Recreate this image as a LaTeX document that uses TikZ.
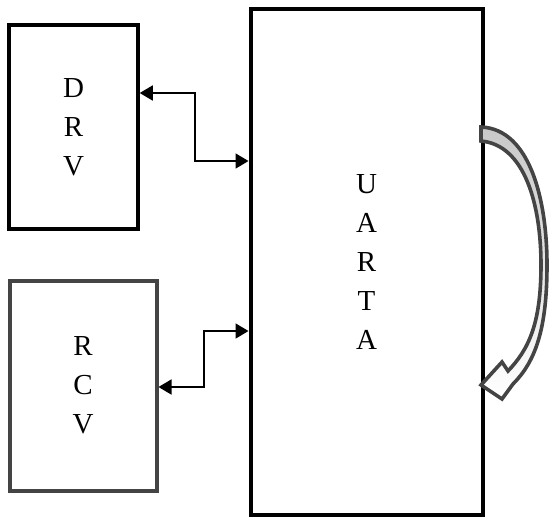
\documentclass[tikz,border=0pt]{standalone}
\usepackage{fontspec}
\setmainfont{Liberation Serif}
\usepackage{xcolor}
\usepackage{tikz}
\usetikzlibrary{arrows.meta,positioning,calc}
\definecolor{ink}{HTML}{000000}
\definecolor{slate}{HTML}{444444}
\definecolor{pale}{HTML}{C8C8C8}
\tikzset{
  blk/.style={draw=ink,line width=4pt,fill=white,align=center,inner sep=0pt,
    font=\fontsize{29}{39}\selectfont},
  link/.style={line width=1.8pt,ink,{Triangle[length=13pt,width=15pt]}-{Triangle[length=13pt,width=15pt]}}
}

\begin{document}
\begin{tikzpicture}[x=1pt,y=-1pt]
\useasboundingbox (0,0) rectangle (549,517);
\node[blk,minimum width=128.5pt,minimum height=203.5pt] (drv) at (73.5,126.75) {D\\R\\V};
\node[blk,draw=slate,minimum width=147pt,minimum height=210pt] (rcv) at (83,385.5) {R\\C\\V};
\node[blk,minimum width=232pt,minimum height=506.5pt] (uarta) at (366.5,261.75) {U\\A\\R\\T\\A};
% links to the uart
\coordinate (d1) at (195,93);
\coordinate (d2) at (195,161);
\draw[link] (drv.east |- d1) -- (d1) -- (d2) -- (d2 -| uarta.west);
\coordinate (r1) at (204,387);
\coordinate (r2) at (204,331);
\draw[link] (rcv.east |- r1) -- (r1) -- (r2) -- (r2 -| uarta.west);
% loop back arrow
\draw[slate,top color=pale,bottom color=white,line width=3.6pt,line join=miter]
  (481,127) .. controls (530,129) and (547,200) .. (547,265)
  .. controls (547,330) and (535,362) .. (513,384)
  -- (502,399) -- (481,385) -- (502,362) -- (508,371)
  .. controls (528,350) and (541,325) .. (541,265)
  .. controls (541,205) and (525,145) .. (481,141) -- cycle;
\end{tikzpicture}
\end{document}
